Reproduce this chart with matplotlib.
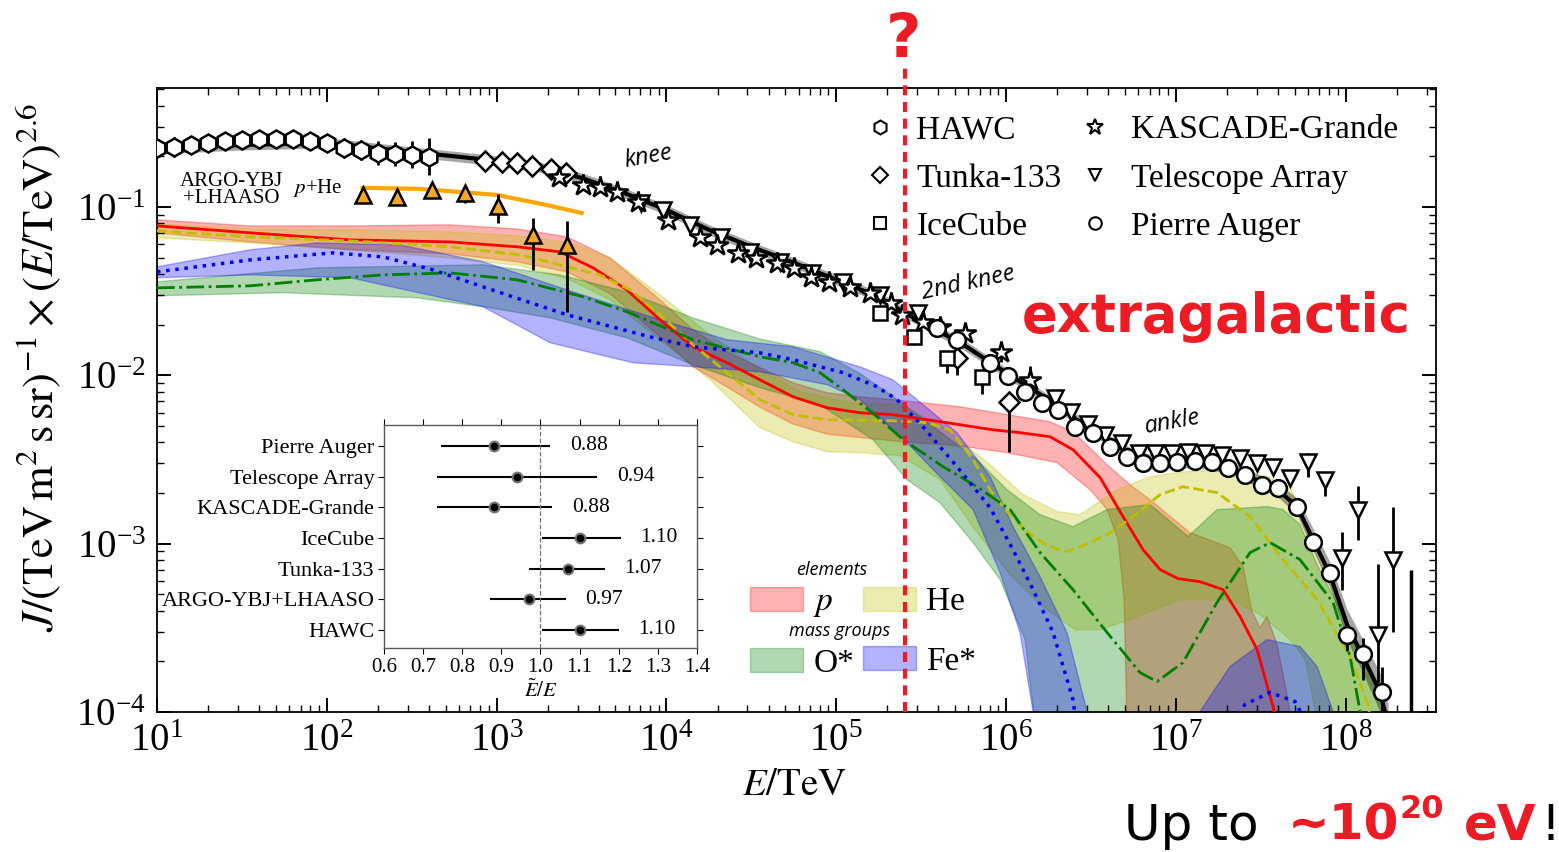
import numpy as np
import matplotlib
matplotlib.use("Agg")
import matplotlib.pyplot as plt
from matplotlib.lines import Line2D
from matplotlib.patches import Patch
from matplotlib.ticker import LogLocator, NullFormatter

plt.rcParams["font.family"] = ["Liberation Serif", "DejaVu Serif"]
plt.rcParams["mathtext.fontset"] = "stix"

# ---------------- data (log10 E/TeV, log10 J) ----------------
# total model (black line) and its uncertainty band
total_logE = [1.000, 1.500, 2.000, 2.500, 2.783, 3.000, 3.250, 3.500, 3.750, 4.000, 4.250, 4.500,
              4.750, 5.000, 5.250, 5.393, 5.500, 5.750, 6.000, 6.250, 6.500, 6.750, 6.907, 7.142,
              7.319, 7.508, 7.613, 7.714, 7.808, 7.908, 8.008, 8.102, 8.203, 8.250]
total_logJ = [-0.656, -0.632, -0.620, -0.674, -0.703, -0.727, -0.763, -0.828, -0.917, -1.018, -1.136, -1.237,
              -1.332, -1.433, -1.534, -1.623, -1.682, -1.819, -1.985, -2.145, -2.324, -2.472, -2.519, -2.519,
              -2.549, -2.638, -2.692, -2.780, -2.976, -3.184, -3.481, -3.671, -3.884, -4.074]
total_hi = [-0.626, -0.602, -0.590, -0.644, -0.673, -0.697, -0.733, -0.798, -0.887, -0.988, -1.106, -1.207,
            -1.302, -1.403, -1.504, -1.593, -1.652, -1.789, -1.955, -2.115, -2.294, -2.440, -2.487, -2.487,
            -2.515, -2.600, -2.650, -2.730, -2.910, -3.110, -3.390, -3.570, -3.770, -3.950]
total_lo = [-0.686, -0.662, -0.650, -0.704, -0.733, -0.757, -0.793, -0.858, -0.947, -1.048, -1.166, -1.267,
            -1.362, -1.463, -1.564, -1.653, -1.712, -1.849, -2.015, -2.175, -2.354, -2.504, -2.551, -2.551,
            -2.583, -2.676, -2.734, -2.830, -3.040, -3.260, -3.570, -3.770, -4.000, -4.200]

# proton
p_mid_logE = [1.000, 1.548, 2.137, 2.726, 3.120, 3.373, 3.568, 3.768, 3.962, 4.157, 4.357, 4.551, 4.746,
              4.946, 5.140, 5.334, 5.535, 5.729, 5.923, 6.082, 6.259, 6.394, 6.554, 6.689, 6.807, 6.907,
              7.013, 7.142, 7.278, 7.378, 7.478, 7.572, 7.613]
p_mid_logJ = [-1.113, -1.154, -1.196, -1.208, -1.237, -1.267, -1.362, -1.493, -1.671, -1.831, -1.926, -2.027,
              -2.128, -2.193, -2.223, -2.234, -2.264, -2.294, -2.324, -2.341, -2.365, -2.442, -2.608, -2.840,
              -3.036, -3.154, -3.208, -3.226, -3.273, -3.433, -3.629, -3.967, -4.163]
p_up_logE = [1.000, 1.548, 2.137, 2.726, 3.120, 3.414, 3.668, 3.962, 4.157, 4.357, 4.551, 4.746, 4.946,
             5.140, 5.334, 5.729, 6.006, 6.259, 6.394, 6.595, 6.730, 6.848, 7.083, 7.319, 7.396, 7.449,
             7.496, 7.537, 7.596, 7.649, 7.684]
p_up_logJ = [-1.077, -1.113, -1.113, -1.107, -1.131, -1.178, -1.303, -1.552, -1.730, -1.860, -1.955, -2.045,
             -2.104, -2.128, -2.145, -2.187, -2.234, -2.276, -2.336, -2.531, -2.650, -2.739, -2.935, -3.024,
             -3.137, -3.404, -3.499, -3.433, -3.599, -3.867, -4.074]
p_lo_logE = [1.000, 1.548, 2.137, 2.726, 3.120, 3.414, 3.668, 3.962, 4.157, 4.357, 4.551, 4.746, 4.946,
             5.140, 5.334, 5.729, 6.006, 6.300, 6.495, 6.595, 6.660, 6.695, 6.712]
p_lo_logJ = [-1.154, -1.208, -1.255, -1.279, -1.326, -1.386, -1.516, -1.772, -1.949, -2.070, -2.190, -2.290,
             -2.350, -2.370, -2.390, -2.420, -2.460, -2.519, -2.680, -2.798, -2.976, -3.332, -4.074]

# helium
he_mid_logE = [1.000, 1.548, 2.137, 2.726, 3.138, 3.373, 3.609, 3.786, 3.962, 4.157, 4.357, 4.551, 4.746,
               4.946, 5.334, 5.535, 5.670, 5.806, 5.906, 6.006, 6.124, 6.241, 6.359, 6.453, 6.595, 6.748,
               6.907, 7.042, 7.242, 7.437, 7.631, 7.832, 8.026, 8.126, 8.155]
he_mid_logJ = [-1.142, -1.178, -1.202, -1.237, -1.285, -1.344, -1.404, -1.493, -1.641, -1.819, -1.985, -2.145,
               -2.234, -2.264, -2.270, -2.282, -2.324, -2.501, -2.680, -2.810, -2.929, -3.012, -3.047, -3.012,
               -2.947, -2.840, -2.709, -2.662, -2.697, -2.840, -3.095, -3.332, -3.671, -3.944, -4.074]
he_up_logE = [1.000, 1.548, 2.137, 2.726, 3.138, 3.432, 3.668, 3.962, 4.257, 4.551, 4.787, 5.081, 5.376,
              5.611, 5.906, 6.100, 6.300, 6.436, 6.654, 6.848, 7.042, 7.337, 7.537, 7.673, 7.714, 7.808,
              7.949, 8.085, 8.185, 8.244, 8.273]
he_up_logJ = [-1.101, -1.131, -1.136, -1.148, -1.172, -1.214, -1.303, -1.522, -1.760, -1.967, -2.098, -2.163,
              -2.175, -2.294, -2.531, -2.709, -2.810, -2.828, -2.680, -2.602, -2.573, -2.561, -2.602, -2.662,
              -2.768, -3.024, -3.332, -3.671, -3.867, -3.997, -4.104]
he_lo_logE = [1.000, 1.548, 2.137, 2.726, 3.138, 3.432, 3.668, 3.962, 4.257, 4.551, 4.746, 4.946, 5.140,
              5.376, 5.611, 5.817, 6.023, 6.200, 6.406, 6.554, 6.730, 7.024, 7.319, 7.496, 7.673, 7.761, 7.837]
he_lo_logJ = [-1.184, -1.214, -1.255, -1.303, -1.350, -1.433, -1.552, -1.789, -2.027, -2.312, -2.395, -2.454,
              -2.460, -2.478, -2.620, -2.917, -3.184, -3.362, -3.511, -3.511, -3.451, -3.332, -3.332, -3.421,
              -3.570, -3.689, -4.074]

# O* mass group
o_mid_logE = [1.000, 1.548, 1.942, 2.331, 2.726, 3.120, 3.509, 3.768, 4.157, 4.551, 4.746, 4.905, 5.040,
              5.240, 5.394, 5.629, 5.829, 6.024, 6.200, 6.394, 6.595, 6.789, 6.889, 7.042, 7.242, 7.437,
              7.555, 7.731, 7.926, 8.026, 8.085, 8.102]
o_mid_logJ = [-1.481, -1.469, -1.433, -1.404, -1.392, -1.433, -1.534, -1.623, -1.789, -1.890, -1.926, -1.985,
              -2.086, -2.246, -2.383, -2.543, -2.662, -2.798, -3.053, -3.273, -3.528, -3.766, -3.819, -3.706,
              -3.350, -3.053, -2.994, -3.095, -3.350, -3.671, -3.997, -4.104]
o_up_logE = [1.000, 1.942, 2.920, 3.373, 3.768, 4.157, 4.551, 4.905, 5.140, 5.376, 5.611, 5.829, 6.006,
             6.200, 6.394, 6.595, 6.848, 7.072, 7.242, 7.537, 7.631, 7.731, 7.832, 7.967, 8.085, 8.185, 8.262]
o_up_logJ = [-1.445, -1.362, -1.344, -1.404, -1.505, -1.660, -1.785, -1.860, -1.990, -2.157, -2.336, -2.501,
             -2.680, -2.828, -2.899, -2.798, -2.768, -2.958, -2.798, -2.780, -2.798, -2.887, -3.125, -3.392,
             -3.659, -3.855, -4.074]
o_lo_logE = [1.000, 1.742, 2.531, 2.920, 3.315, 3.768, 4.157, 4.551, 4.905, 5.217, 5.417, 5.611, 5.806,
             5.965, 6.112, 6.171]
o_lo_logJ = [-1.528, -1.510, -1.540, -1.593, -1.659, -1.778, -1.938, -2.074, -2.175, -2.383, -2.620, -2.757,
             -2.994, -3.214, -3.570, -4.074]

# Fe* mass group
fe_mid_logE = [1.000, 1.548, 2.037, 2.331, 2.625, 2.920, 3.414, 3.903, 4.157, 4.551, 4.746, 5.040, 5.240,
               5.358, 5.511, 5.711, 5.906, 6.041, 6.159, 6.277, 6.394, 6.418]
fe_mid_logJ = [-1.386, -1.315, -1.273, -1.297, -1.374, -1.475, -1.641, -1.772, -1.831, -1.867, -1.908, -1.985,
               -2.068, -2.145, -2.306, -2.543, -2.786, -3.036, -3.273, -3.528, -3.926, -4.104]
fe_mid2_logE = [7.307, 7.407, 7.555, 7.702, 7.790]
fe_mid2_logJ = [-4.104, -3.955, -3.884, -3.938, -4.104]
fe_up_logE = [1.000, 1.548, 1.942, 2.431, 2.920, 3.414, 3.962, 4.357, 4.746, 5.140, 5.334, 5.476, 5.711,
              5.906, 6.041, 6.200, 6.359, 6.477, 6.495]
fe_up_logJ = [-1.356, -1.255, -1.214, -1.226, -1.326, -1.493, -1.671, -1.789, -1.831, -1.950, -2.027, -2.145,
              -2.341, -2.602, -2.899, -3.196, -3.528, -3.997, -4.074]
fe_lo_logE = [1.000, 1.548, 2.137, 2.920, 3.315, 3.803, 4.157, 4.551, 4.946, 5.140, 5.417, 5.611, 5.806,
              5.965, 6.082, 6.159, 6.171]
fe_lo_logJ = [-1.421, -1.404, -1.421, -1.593, -1.807, -1.926, -1.949, -1.979, -2.056, -2.145, -2.401, -2.602,
              -2.798, -3.172, -3.528, -3.997, -4.074]
fe_up2_logE = [7.113, 7.142, 7.319, 7.537, 7.731, 7.832, 7.926, 7.943]
fe_up2_logJ = [-4.104, -3.997, -3.730, -3.570, -3.611, -3.730, -3.997, -4.104]

# measurements
hawc_logE = [1.0, 1.1, 1.2, 1.3, 1.4, 1.5, 1.6, 1.7, 1.8, 1.9, 2.0, 2.1, 2.2, 2.3, 2.4, 2.5, 2.6]
hawc_logJ = [-0.650, -0.644, -0.632, -0.620, -0.608, -0.602, -0.596, -0.596, -0.596, -0.608, -0.620, -0.650,
             -0.662, -0.680, -0.685, -0.691, -0.703]
hawc_err = [0.03, 0.06, 0.03, 0.02, 0.02, 0.02, 0.02, 0.02, 0.02, 0.02, 0.03, 0.06, 0.06, 0.07, 0.07, 0.08, 0.11]

argo_logE = [2.213, 2.413, 2.620, 2.814, 3.008, 3.214, 3.415]
argo_logJ = [-0.929, -0.941, -0.899, -0.917, -0.994, -1.166, -1.226]
argo_lo = [0.02, 0.02, 0.04, 0.06, 0.10, 0.21, 0.40]
argo_hi = [0.02, 0.02, 0.04, 0.03, 0.07, 0.10, 0.14]
argo_fit_logE = [2.21, 2.55, 3.00, 3.29, 3.50]
argo_fit_logJ = [-0.887, -0.893, -0.929, -0.988, -1.036]

tunka_logE = [2.93, 3.03, 3.12, 3.21, 3.32, 3.41, 5.71, 6.02]
tunka_logJ = [-0.727, -0.733, -0.739, -0.757, -0.775, -0.798, -1.896, -2.157]
tunka_lo = [0.01, 0.01, 0.01, 0.01, 0.01, 0.01, 0.10, 0.30]
tunka_hi = [0.01, 0.01, 0.01, 0.01, 0.01, 0.01, 0.03, 0.05]

kg_logE = [3.37, 3.51, 3.61, 3.71, 3.83, 4.01, 4.20, 4.30, 4.42, 4.53, 4.65, 4.75, 4.85, 4.96, 5.08, 5.20,
           5.32, 5.39, 5.51, 5.61, 5.76, 5.97, 6.14]
kg_logJ = [-0.822, -0.869, -0.881, -0.911, -0.970, -1.077, -1.178, -1.226, -1.273, -1.303, -1.332, -1.362,
           -1.415, -1.445, -1.475, -1.510, -1.570, -1.641, -1.682, -1.712, -1.748, -1.861, -2.027]
kg_err = [0.01] * 19 + [0.03, 0.04, 0.06, 0.08]

ta_logE = [3.85, 3.98, 4.14, 4.32, 4.49, 4.67, 4.86, 5.04, 5.26, 5.48,
           6.29, 6.38, 6.48, 6.58, 6.68, 6.78, 6.88, 6.98, 7.07, 7.17, 7.27, 7.38, 7.48, 7.57,
           7.67, 7.78, 7.88, 7.98, 8.07, 8.19, 8.28]
ta_logJ = [-0.976, -1.018, -1.107, -1.178, -1.267, -1.326, -1.392, -1.445, -1.522, -1.629,
           -2.134, -2.217, -2.290, -2.353, -2.401, -2.460, -2.460, -2.460, -2.454, -2.460, -2.472, -2.490,
           -2.519, -2.543, -2.608, -2.513, -2.620, -3.083, -2.798, -3.540, -3.095]
ta_lo = [0.01] * 10 + [0.02] * 14 + [0.03, 0.09, 0.10, 0.19, 0.18, 0.29, 0.43]
ta_hi = [0.01] * 10 + [0.02] * 14 + [0.03, 0.05, 0.03, 0.15, 0.14, 0.42, 0.31]
ul_logE = [8.383]
ul_top = [-3.154]
ul_bottom = [-4.10]

icecube_logE = [5.26, 5.46, 5.65, 5.86]
icecube_logJ = [-1.629, -1.772, -1.896, -2.009]
icecube_lo = [0.02, 0.05, 0.09, 0.10]
icecube_hi = [0.02, 0.04, 0.04, 0.03]

auger_logE = [5.594, 5.711, 5.906, 6.012, 6.112, 6.212, 6.306, 6.406, 6.512, 6.612, 6.713, 6.807, 6.907,
              7.007, 7.113, 7.213, 7.307, 7.407, 7.508, 7.602, 7.714, 7.808, 7.908, 8.008, 8.102, 8.214]
auger_logJ = [-1.718, -1.789, -1.926, -2.003, -2.098, -2.163, -2.205, -2.306, -2.341, -2.424, -2.484, -2.519,
              -2.519, -2.513, -2.507, -2.513, -2.549, -2.591, -2.650, -2.668, -2.780, -2.988, -3.172, -3.540,
              -3.658, -3.884]
auger_lo = [0.01] * 20 + [0.02, 0.03, 0.04, 0.10, 0.15, 0.12]
auger_hi = [0.01] * 20 + [0.02, 0.03, 0.04, 0.03, 0.10, 0.15]

boundary_logE = 5.405

# axis ticks
x_major_ticks = [1e1, 1e2, 1e3, 1e4, 1e5, 1e6, 1e7, 1e8]
y_major_ticks = [1e-4, 1e-3, 1e-2, 1e-1]

# inset: energy-scale factors
inset_names = ["Pierre Auger", "Telescope Array", "KASCADE-Grande", "IceCube", "Tunka-133",
               "ARGO-YBJ+LHAASO", "HAWC"]
inset_val = [0.88, 0.94, 0.88, 1.10, 1.07, 0.97, 1.10]
inset_lo = [0.745, 0.735, 0.735, 1.005, 0.970, 0.870, 1.005]
inset_hi = [1.025, 1.145, 1.030, 1.205, 1.165, 1.065, 1.200]
inset_xticks = [0.6, 0.7, 0.8, 0.9, 1.0, 1.1, 1.2, 1.3, 1.4]


def P(v):
    return np.power(10.0, np.asarray(v, dtype=float))


RED = "#ed1c24"
C_P, C_HE, C_O, C_FE = (1, 0, 0), (0.75, 0.75, 0), (0, 0.5, 0), (0, 0, 1)
W, H = 1559.0, 852.0

fig = plt.figure(figsize=(15.59, 8.52), dpi=100)
ax = fig.add_axes([0.10071, 0.16432, 0.82040, 0.73239])
ax.set_xscale("log")
ax.set_yscale("log")
ax.set_xlim(10, 10 ** 8.532)
ax.set_ylim(1e-4, 10 ** -0.294)


def band(uE, uJ, lE, lJ, color, z):
    xs = np.r_[np.asarray(uE), np.asarray(lE)[::-1]]
    ys = np.r_[np.asarray(uJ), np.asarray(lJ)[::-1]]
    ax.fill(P(xs), P(ys), facecolor=color, edgecolor=color, alpha=0.3, lw=1.0, zorder=z)


band(p_up_logE, p_up_logJ, p_lo_logE, p_lo_logJ, C_P, 1)
band(he_up_logE, he_up_logJ, he_lo_logE, he_lo_logJ, C_HE, 1)
band(o_up_logE, o_up_logJ, o_lo_logE, o_lo_logJ, C_O, 1)
band(fe_up_logE, fe_up_logJ, fe_lo_logE, fe_lo_logJ, C_FE, 1)
ax.fill(P(fe_up2_logE), P(fe_up2_logJ), facecolor=C_FE, edgecolor=C_FE, alpha=0.3, lw=1.0, zorder=1)

ax.plot(P(p_mid_logE), P(p_mid_logJ), color=C_P, lw=2, zorder=3)
ax.plot(P(he_mid_logE), P(he_mid_logJ), color=C_HE, lw=2, ls="--", zorder=3)
ax.plot(P(o_mid_logE), P(o_mid_logJ), color=C_O, lw=2, ls="-.", zorder=3)
ax.plot(P(fe_mid_logE), P(fe_mid_logJ), color=C_FE, lw=2.5, ls=":", zorder=3)
ax.plot(P(fe_mid2_logE), P(fe_mid2_logJ), color=C_FE, lw=2.5, ls=":", zorder=3)

# total
ax.fill_between(P(total_logE), P(total_lo), P(total_hi), color="k", alpha=0.35, lw=0, zorder=4)
ax.plot(P(total_logE), P(total_logJ), color="k", lw=3, zorder=4)


def data(E, J, lo, hi, marker, ms, fc="w", z=6):
    J = np.asarray(J, float)
    y = P(J)
    yerr = [y - P(J - np.asarray(lo, float)), P(J + np.asarray(hi, float)) - y]
    ax.errorbar(P(E), y, yerr=yerr, fmt=marker, ms=ms, mfc=fc, mec="k", mew=1.8,
                ecolor="k", elinewidth=2, capsize=0, zorder=z)


data(hawc_logE, hawc_logJ, hawc_err, hawc_err, "h", 13)
ax.plot(P(argo_fit_logE), P(argo_fit_logJ), color="orange", lw=3, zorder=5)
data(argo_logE, argo_logJ, argo_lo, argo_hi, "^", 11, fc="#f7a823")
data(tunka_logE, tunka_logJ, tunka_lo, tunka_hi, "D", 10)
data(ta_logE, ta_logJ, ta_lo, ta_hi, "v", 11)
data(kg_logE, kg_logJ, kg_err, kg_err, "*", 16)
data(icecube_logE, icecube_logJ, icecube_lo, icecube_hi, "s", 10)
data(auger_logE, auger_logJ, auger_lo, auger_hi, "o", 12)
ax.vlines(P(ul_logE), P(ul_bottom), P(ul_top), color="k", lw=2.5, zorder=6)

# axes styling
ax.set_xticks(x_major_ticks)
ax.set_yticks(y_major_ticks)
ax.xaxis.set_minor_locator(LogLocator(base=10, subs=np.arange(2, 10), numticks=20))
ax.yaxis.set_minor_locator(LogLocator(base=10, subs=np.arange(2, 10), numticks=20))
ax.xaxis.set_minor_formatter(NullFormatter())
ax.yaxis.set_minor_formatter(NullFormatter())
ax.tick_params(which="both", direction="in", top=True, right=True)
ax.tick_params(which="major", length=10, width=1.4, labelsize=28, pad=8)
ax.tick_params(which="minor", length=5, width=1.0)
for s in ax.spines.values():
    s.set_linewidth(1.3)
ax.set_xlabel(r"$E/\mathrm{TeV}$", fontsize=28)
ax.set_ylabel(r"$J/(\mathrm{TeV\,m^2\,s\,sr})^{-1}\times(E/\mathrm{TeV})^{2.6}$", fontsize=32)
ax.xaxis.set_label_coords(0.498, -0.088)
ax.yaxis.set_label_coords(-0.073, 0.553)

# annotations in the plot
sans_it = dict(style="italic", family=["Open Sans", "DejaVu Sans"])
ax.text(0.3839, 0.8894, "knee", transform=ax.transAxes, rotation=10, fontsize=17,
        ha="center", va="center", **sans_it)
ax.text(0.634, 0.6875, "2nd knee", transform=ax.transAxes, rotation=12, fontsize=17,
        ha="center", va="center", **sans_it)
ax.text(0.7936, 0.4647, "ankle", transform=ax.transAxes, rotation=10, fontsize=17,
        ha="center", va="center", **sans_it)
ax.text(0.0579, 0.8365, "ARGO-YBJ\n+LHAASO", transform=ax.transAxes, fontsize=15,
        ha="center", va="center", linespacing=0.85)
ax.text(0.1259, 0.8397, r"$p$+He", transform=ax.transAxes, fontsize=15, ha="center", va="center")

# marker legend
mk = dict(ls="none", mfc="w", mec="k", mew=1.5)
h1 = [Line2D([], [], marker="h", ms=10, **mk), Line2D([], [], marker="D", ms=8, **mk),
      Line2D([], [], marker="s", ms=8, **mk), Line2D([], [], marker="*", ms=12, **mk),
      Line2D([], [], marker="v", ms=9, **mk), Line2D([], [], marker="o", ms=9, **mk)]
l1 = ["HAWC", "Tunka-133", "IceCube", "KASCADE-Grande", "Telescope Array", "Pierre Auger"]
leg1 = ax.legend(h1, l1, loc="upper left", bbox_to_anchor=(0.552, 0.957), ncol=2, frameon=False,
                 fontsize=24, borderpad=0, borderaxespad=0, handlelength=1.0, handletextpad=0.6,
                 columnspacing=0.5, labelspacing=0.53)
ax.add_artist(leg1)

h2 = [Patch(facecolor=C_P, edgecolor=C_P, alpha=0.3), Patch(facecolor=C_O, edgecolor=C_O, alpha=0.3),
      Patch(facecolor=C_HE, edgecolor=C_HE, alpha=0.3), Patch(facecolor=C_FE, edgecolor=C_FE, alpha=0.3)]
l2 = [r"$p$", "O*", "He", "Fe*"]
leg2 = ax.legend(h2, l2, loc="upper left", bbox_to_anchor=(0.4637, 0.201), ncol=2, frameon=False,
                 fontsize=24, borderpad=0, borderaxespad=0, handlelength=1.6, handleheight=0.75,
                 handletextpad=0.3, columnspacing=0.25, labelspacing=0.85)
ax.text(0.5278, 0.2276, "elements", transform=ax.transAxes, fontsize=13, ha="center", va="center", **sans_it)
ax.text(0.534, 0.1298, "mass groups", transform=ax.transAxes, fontsize=13, ha="center", va="center", **sans_it)

# galactic / extragalactic boundary
ax.axvline(10 ** boundary_logE, ymin=0, ymax=1.042, color=RED, lw=3, ls=(0, (2.4, 1.6)),
           clip_on=False, zorder=7)

# inset
ax_in = fig.add_axes([0.24631, 0.23944, 0.20077, 0.26174])
ypos = np.arange(len(inset_names))[::-1]
val = np.asarray(inset_val)
ax_in.errorbar(val, ypos, xerr=[val - np.asarray(inset_lo), np.asarray(inset_hi) - val], fmt="o",
               ms=7, mfc="k", mec="0.45", mew=1.5, ecolor="k", elinewidth=1.5, capsize=0)
for v, hi, yp in zip(inset_val, inset_hi, ypos):
    ax_in.text(hi + 0.05, yp, f"{v:.2f}", va="center", ha="left", fontsize=15.5)
ax_in.axvline(1.0, ls="--", color="0.45", lw=0.9)
ax_in.set_xlim(0.6, 1.4)
ax_in.set_ylim(-0.59, 6.68)
ax_in.set_yticks(ypos)
ax_in.set_yticklabels(inset_names)
ax_in.set_xticks(inset_xticks)
ax_in.set_xticklabels([f"{t:.1f}" for t in inset_xticks])
ax_in.tick_params(labelsize=15, top=True, right=True, length=4, width=0.8, pad=3)
ax_in.tick_params(axis="y", labelsize=16)
for s in ax_in.spines.values():
    s.set_linewidth(1.0)
    s.set_color("0.35")
ax_in.set_xlabel(r"$\tilde{E}/E$", fontsize=15, labelpad=2)

# overlay annotations
fig.text(904 / W, 1 - 57 / H, "?", color=RED, fontsize=44, fontweight="bold",
         family="DejaVu Sans", ha="center", va="baseline")
fig.text(1022 / W, 1 - 332 / H, "extragalactic", color=RED, fontsize=38, fontweight="bold",
         family="DejaVu Sans", ha="left", va="baseline")

renderer = fig.canvas.get_renderer()
pieces = [("Up to", dict(color="k", fontsize=36), 0, 29),
          ("~10", dict(color=RED, fontsize=36, fontweight="bold"), 0, 1),
          ("20", dict(color=RED, fontsize=23, fontweight="bold"), 22, 19),
          ("eV", dict(color=RED, fontsize=36, fontweight="bold"), 0, 4),
          ("!", dict(color="k", fontsize=36), 0, 0)]
xcur = 1124.0
for s, kw, dy, gap in pieces:
    t = fig.text(xcur / W, (12 + dy) / H, s, family="DejaVu Sans",
                 ha="left", va="baseline", **kw)
    bb = t.get_window_extent(renderer)
    xcur = bb.x1 + gap

fig.savefig("out.png", dpi=100, facecolor="white")
